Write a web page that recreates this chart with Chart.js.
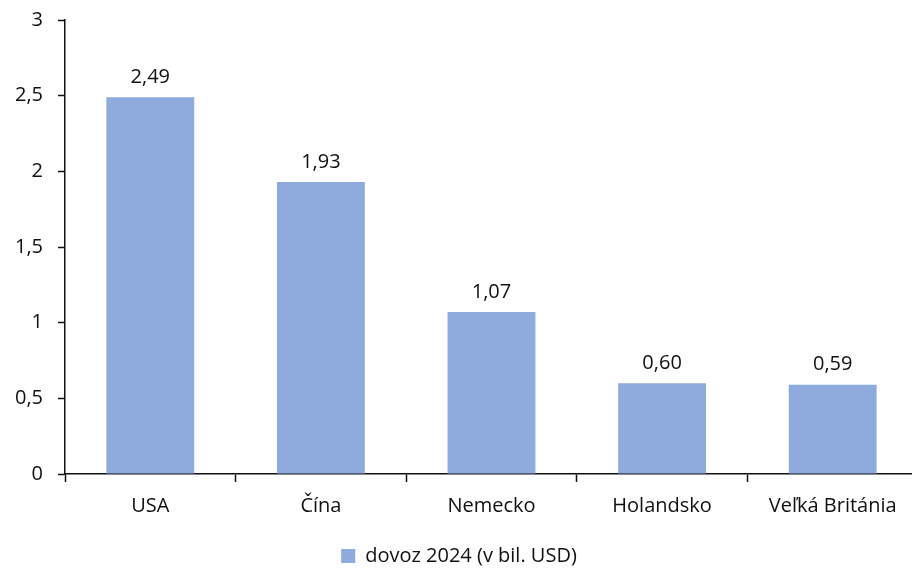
<!DOCTYPE html>
<html>
<head>
<meta charset="utf-8">
<script src="https://cdn.jsdelivr.net/npm/chart.js@4.4.1/dist/chart.umd.min.js"></script>
<style>
  html, body { margin: 0; padding: 0; background: #fff; overflow: hidden; }
  #wrap { width: 949px; height: 576px; }
</style>
</head>
<body>
<div id="wrap"><canvas id="chart"></canvas></div>
<script>
// import values, billions USD
const countries = ['USA', 'Čína', 'Nemecko', 'Holandsko', 'Veľká Británia'];
const imports2024 = [2.49, 1.93, 1.07, 0.60, 0.59];
const seriesName = 'dovoz 2024 (v bil. USD)';

const FONT = '"Open Sans", sans-serif';
const SIZE = 20;
const fmt = (v, d) => (d == null ? String(v) : v.toFixed(d)).replace('.', ',');

// value labels above each bar
const valueLabels = {
  id: 'valueLabels',
  afterDatasetsDraw(chart) {
    const ctx = chart.ctx;
    const meta = chart.getDatasetMeta(0);
    ctx.save();
    ctx.font = SIZE + 'px ' + FONT;
    ctx.fillStyle = '#111';
    ctx.textAlign = 'center';
    ctx.textBaseline = 'middle';
    meta.data.forEach((bar, i) => {
      ctx.fillText(fmt(imports2024[i], 2), bar.x, bar.y - 20);
    });
    ctx.restore();
  }
};

new Chart(document.getElementById('chart'), {
  type: 'bar',
  data: {
    labels: countries,
    datasets: [{
      label: seriesName,
      data: imports2024,
      backgroundColor: '#8FAADC',
      borderWidth: 0,
      categoryPercentage: 1,
      barPercentage: 0.515
    }]
  },
  options: {
    responsive: true,
    maintainAspectRatio: false,
    animation: false,
    layout: { padding: { top: 20, right: 31, bottom: 0, left: 0 } },
    plugins: {
      legend: {
        position: 'bottom',
        labels: {
          boxWidth: 14,
          boxHeight: 14,
          color: '#111',
          font: { family: FONT, size: SIZE },
          padding: 3
        }
      },
      tooltip: { enabled: false }
    },
    scales: {
      x: {
        afterFit(scale) { scale.height = 69; },
        grid: {
          offset: true,
          drawOnChartArea: false,
          drawTicks: true,
          tickLength: 8,
          tickColor: '#111',
          tickWidth: 1.5
        },
        border: { color: '#111', width: 1.5 },
        ticks: {
          color: '#111',
          font: { family: FONT, size: SIZE },
          padding: 12,
          maxRotation: 0
        }
      },
      y: {
        min: 0,
        max: 3,
        afterFit(scale) {
          scale.width = 65;
          // keep the plot top at the layout padding, not label height + padding
          scale.paddingTop = 0;
          scale.paddingBottom = 0;
        },
        grid: {
          drawOnChartArea: false,
          drawTicks: true,
          tickLength: 7,
          tickColor: '#111',
          tickWidth: 1.5
        },
        border: { color: '#111', width: 1.5 },
        ticks: {
          stepSize: 0.5,
          color: '#111',
          font: { family: FONT, size: SIZE },
          padding: 15,
          callback: v => fmt(v)
        }
      }
    }
  },
  plugins: [valueLabels]
});
</script>
</body>
</html>
